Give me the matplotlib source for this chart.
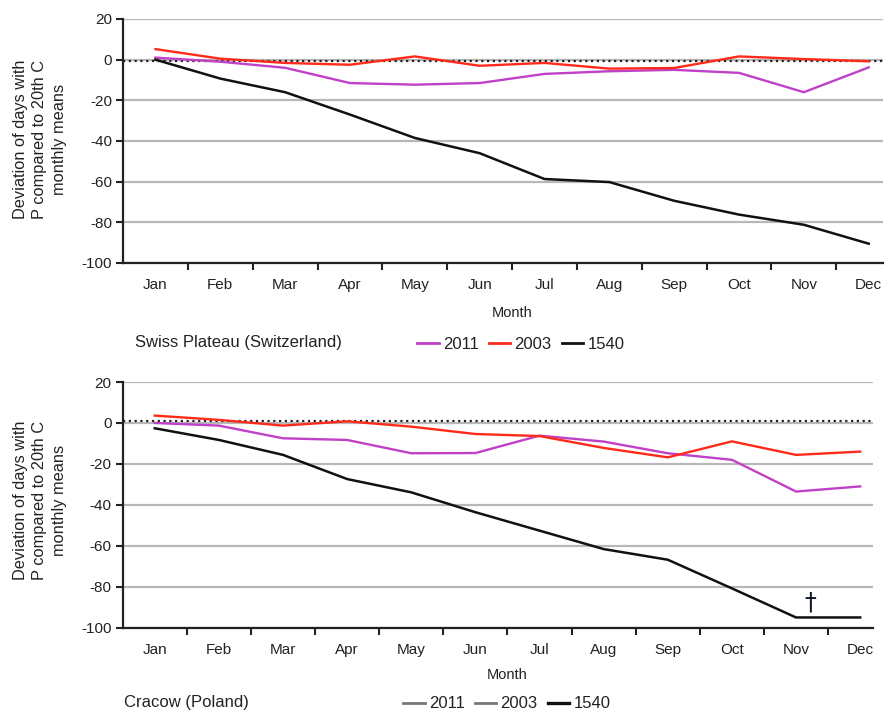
import matplotlib
matplotlib.use("Agg")
import matplotlib.pyplot as plt
from matplotlib.lines import Line2D

plt.rcParams['font.family'] = ['Liberation Sans', 'DejaVu Sans']
plt.rcParams['axes.unicode_minus'] = False

months = ["Jan", "Feb", "Mar", "Apr", "May", "Jun", "Jul", "Aug", "Sep", "Oct", "Nov", "Dec"]

swiss_2011 = [1, -1, -4, -11.5, -12.3, -11.5, -7, -5.7, -5, -6.5, -16, -3.8]
swiss_2003 = [5.2, 0.5, -1.6, -2.5, 1.6, -3, -1.6, -4.4, -4.1, 1.6, 0.3, -0.8]
swiss_1540 = [0, -9.3, -16, -27, -38.5, -46, -58.7, -60.2, -69.4, -76.2, -81.2, -90.5]
swiss_ref = -0.6

cracow_2011 = [0, -1.3, -7.5, -8.3, -14.8, -14.7, -6.2, -9.1, -14.8, -18, -33.5, -31]
cracow_2003 = [3.6, 1.5, -1.3, 0.8, -1.8, -5.4, -6.4, -12.2, -16.8, -9, -15.6, -14]
cracow_1540 = [-2.6, -8.3, -15.6, -27.4, -33.9, -43.6, -52.6, -61.6, -66.8, -80.8, -95, -95]
cracow_ref = 1.1

yticks = [20, 0, -20, -40, -60, -80, -100]

PURPLE = '#c040c8'
RED = '#ff2a1a'
BLACK = '#111111'
GRID = '#b8b8b8'

W, H = 887, 714
fig = plt.figure(figsize=(W / 100, H / 100), dpi=100)

def px_axes(left, top, right, bottom):
    return [left / W, 1 - bottom / H, (right - left) / W, (bottom - top) / H]

ax1 = fig.add_axes(px_axes(123, 19, 883, 263))
ax2 = fig.add_axes(px_axes(122.7, 382, 873, 627.7))

x = list(range(len(months)))

def style(ax, right_lim, month_y):
    ax.set_xlim(-0.5, right_lim)
    ax.set_ylim(-100, 20)
    ax.set_yticks(yticks)
    ax.set_yticklabels([str(v) for v in yticks])
    ax.yaxis.grid(True, color=GRID, linewidth=1.6)
    ax.set_axisbelow(True)
    for s in ['top', 'right']:
        ax.spines[s].set_visible(False)
    for s in ['left', 'bottom']:
        ax.spines[s].set_color('#222222')
        ax.spines[s].set_linewidth(1.6)
        ax.spines[s].set_zorder(5)
    ax.set_xticks([i + 0.5 for i in range(11)])
    ax.set_xticklabels([])
    ax.set_xticks(x, minor=True)
    ax.set_xticklabels(months, minor=True)
    ax.tick_params(axis='x', which='major', length=5, width=1.5, color='#222222', direction='out')
    ax.tick_params(axis='x', which='minor', length=0, pad=11, labelsize=11, labelcolor='#222222')
    ax.tick_params(axis='y', length=5, width=1.5, color='#222222', labelsize=11, labelcolor='#222222', pad=3)
    ax.text(5.5, month_y, 'Month', transform=ax.get_xaxis_transform(), ha='center', va='center',
            fontsize=10.5, color='#222222')

style(ax1, 11.22, -0.205)
style(ax2, 11.2, -0.193)

for ax, ref in [(ax1, swiss_ref), (ax2, cracow_ref)]:
    ax.axhline(ref, color='#222222', linestyle=(0, (1, 1.6)), linewidth=1.6, zorder=2)

ax1.plot(x, swiss_2011, color=PURPLE, lw=1.7, zorder=3)
ax1.plot(x, swiss_2003, color=RED, lw=1.7, zorder=3)
ax1.plot(x, swiss_1540, color=BLACK, lw=1.8, zorder=4)

ax2.plot(x, cracow_2011, color=PURPLE, lw=1.7, zorder=3)
ax2.plot(x, cracow_2003, color=RED, lw=1.7, zorder=3)
ax2.plot(x, cracow_1540, color=BLACK, lw=1.8, zorder=4)

ax2.text(10.22, -87.5, '\u2020', ha='center', va='center', fontsize=17, color='#101828',
         family=['DejaVu Sans'])

ylab = 'Deviation of days with\nP compared to 20th C\nmonthly means'
fig.text(40 / W, 1 - 139 / H, ylab, rotation=90, ha='center', va='center', multialignment='center',
         fontsize=11.8, color='#222222', linespacing=1.4)
fig.text(40 / W, 1 - 500 / H, ylab, rotation=90, ha='center', va='center', multialignment='center',
         fontsize=11.8, color='#222222', linespacing=1.4)

fig.text(135 / W, 1 - 342 / H, 'Swiss Plateau (Switzerland)', ha='left', va='center',
         fontsize=12, color='#222222')
fig.text(124 / W, 1 - 703 / H, 'Cracow (Poland)', ha='left', va='center',
         fontsize=12, color='#222222')

h_top = [Line2D([], [], color=PURPLE, lw=2), Line2D([], [], color=RED, lw=2),
         Line2D([], [], color=BLACK, lw=2)]
h_bot = [Line2D([], [], color='#777777', lw=2), Line2D([], [], color='#777777', lw=2),
         Line2D([], [], color=BLACK, lw=2.4)]
labels = ['2011', '2003', '1540']
for handles, xy in [(h_top, (417, 344)), (h_bot, (403, 704))]:
    fig.legend(handles, labels, loc='center left', bbox_to_anchor=(xy[0] / W, 1 - xy[1] / H),
               ncol=3, frameon=False, fontsize=12, handlelength=1.3, handletextpad=0.25,
               columnspacing=0.6, borderpad=0, borderaxespad=0, labelcolor='#222222')

fig.savefig('out.png', dpi=100)
